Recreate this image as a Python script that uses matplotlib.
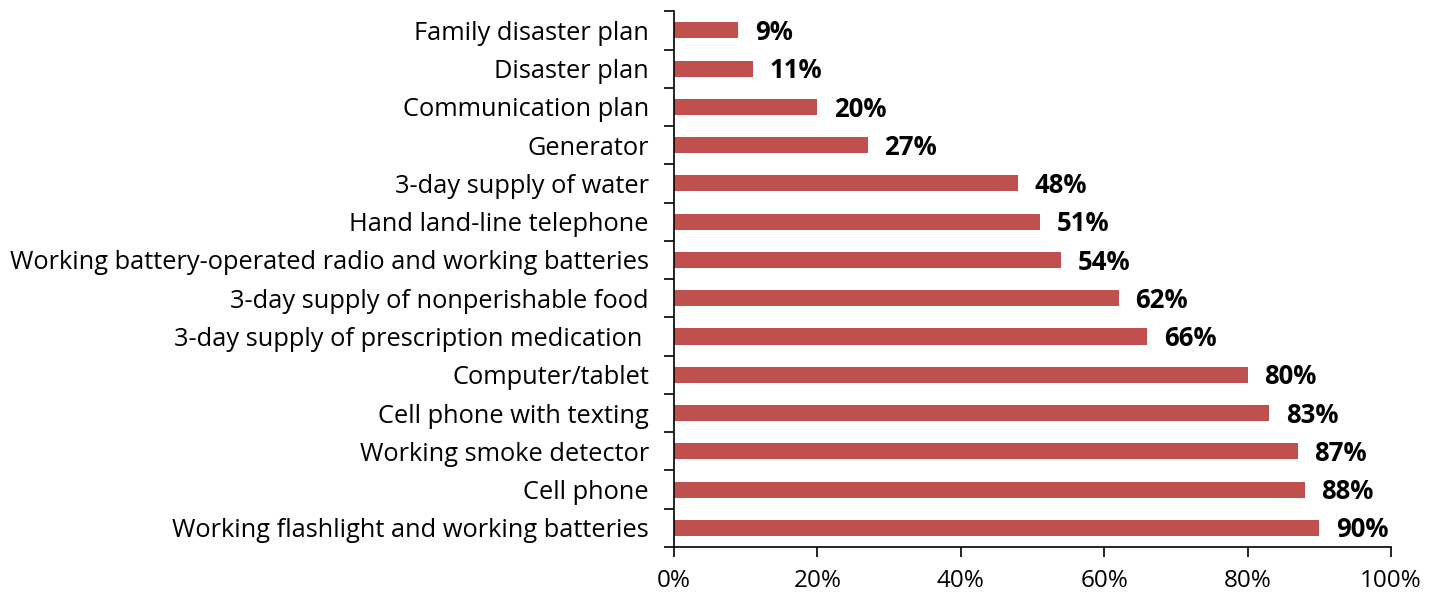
import matplotlib.pyplot as plt
import numpy as np

plt.rcParams['font.family'] = ['Open Sans', 'DejaVu Sans']

items = ['Working flashlight and working batteries', 'Cell phone', 'Working smoke detector',
         'Cell phone with texting', 'Computer/tablet', '3-day supply of prescription medication ',
         '3-day supply of nonperishable food', 'Working battery-operated radio and working batteries',
         'Hand land-line telephone', '3-day supply of water', 'Generator',
         'Communication plan', 'Disaster plan', 'Family disaster plan']
percents = [90, 88, 87, 83, 80, 66, 62, 54, 51, 48, 27, 20, 11, 9]
xticks = [0, 20, 40, 60, 80, 100]

fig = plt.figure(figsize=(14.41, 5.92), dpi=100)
ax = fig.add_axes([0.4677, 0.076, 0.4976, 0.905])

y = np.arange(len(items))
ax.barh(y, percents, height=0.42, color='#C0504D')

# bold value labels just past each bar end
for yi, v in zip(y, percents):
    ax.annotate(f'{v}%', (v, yi), xytext=(12, -1.5), textcoords='offset points',
                ha='left', va='center', fontsize=18.5, fontweight='bold')

ax.set_xlim(0, 100)
ax.set_ylim(-0.5, len(items) - 0.5)
ax.set_xticks(xticks)
ax.set_xticklabels([f'{t}%' for t in xticks], fontsize=17.5)
ax.set_yticks(y)
ax.set_yticklabels(items, fontsize=18.3)
ax.set_yticks(np.arange(-0.5, len(items)), minor=True)
ax.tick_params(axis='y', which='major', length=0, pad=18)
ax.tick_params(axis='y', which='minor', length=7, width=1.2)
ax.tick_params(axis='x', length=7, width=1.2, pad=9)

for side in ['top', 'right']:
    ax.spines[side].set_visible(False)
ax.spines['left'].set_linewidth(1.2)
ax.spines['bottom'].set_linewidth(1.2)

fig.savefig('out.png', dpi=100)
